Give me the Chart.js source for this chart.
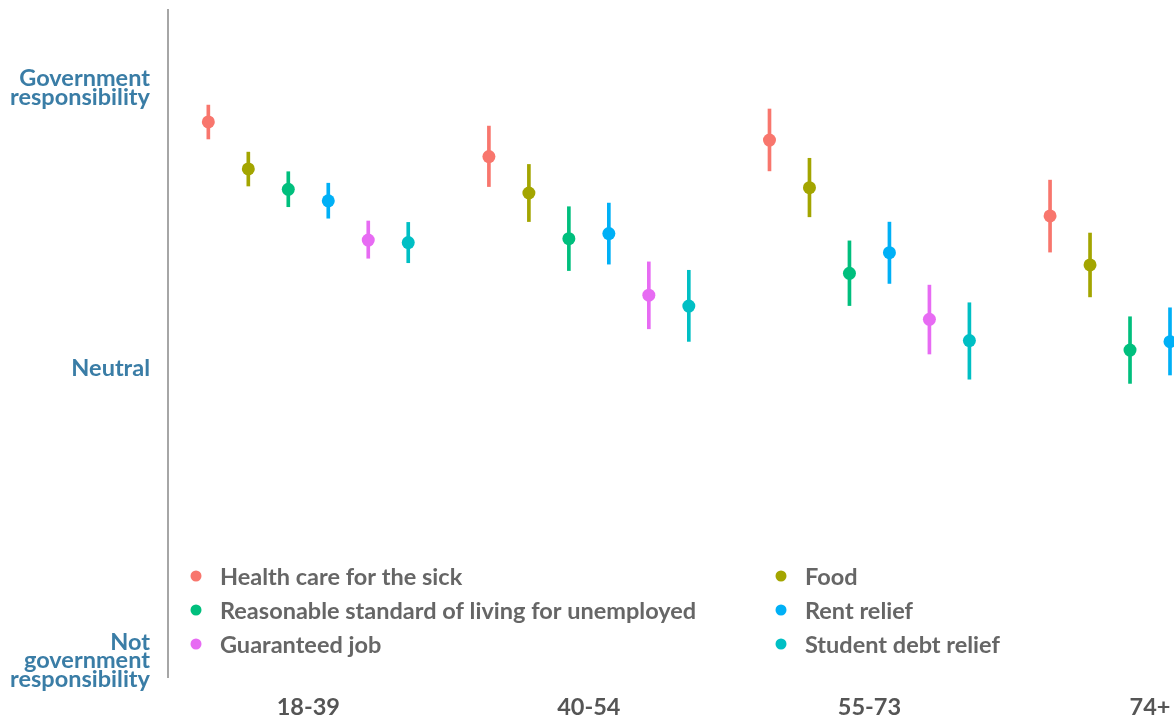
<!DOCTYPE html>
<html>
<head>
<meta charset="utf-8">
<script src="https://cdn.jsdelivr.net/npm/chart.js@4.4.1/dist/chart.umd.min.js"></script>
<style>
  html, body { margin: 0; padding: 0; background: #ffffff; overflow: hidden; }
  #wrap { position: relative; width: 1174px; height: 721px; }
</style>
</head>
<body>
<div id="wrap"><canvas id="chart"></canvas></div>
<script>
// Age groups on the x axis
const ageGroups = ['18-39', '40-54', '55-73', '74+'];

// Y axis: 1 = government responsibility, 0 = neutral, negative = not
const yTickValues = [1, 0, -1.045];
const yTickLabels = [
  ['Government', 'responsibility'],
  'Neutral',
  ['Not', 'government', 'responsibility']
];

// Policy items (legend order) and their colours
const policies = [
  'Health care for the sick',
  'Food',
  'Reasonable standard of living for unemployed',
  'Rent relief',
  'Guaranteed job',
  'Student debt relief'
];
const policyColors = ['#F8766D', '#A3A500', '#00BF7D', '#00B0F6', '#E76BF3', '#00BFC4'];

// Mean estimates per age group (null where the group is not shown)
const healthMean     = [0.879, 0.755, 0.814, 0.543];
const foodMean       = [0.711, 0.625, 0.644, 0.368];
const standardMean   = [0.638, 0.462, 0.338, 0.064];
const rentMean       = [0.597, 0.480, 0.412, 0.094];
const jobMean        = [0.457, 0.260, 0.174, null];
const studentMean    = [0.448, 0.221, 0.098, null];

// Lower / upper interval bounds
const healthLow      = [0.818, 0.648, 0.704, 0.414];
const healthHigh     = [0.939, 0.864, 0.925, 0.671];
const foodLow        = [0.650, 0.523, 0.540, 0.254];
const foodHigh       = [0.771, 0.727, 0.749, 0.482];
const standardLow    = [0.576, 0.348, 0.223, -0.055];
const standardHigh   = [0.701, 0.576, 0.454, 0.183];
const rentLow        = [0.535, 0.371, 0.302, -0.025];
const rentHigh       = [0.660, 0.589, 0.521, 0.215];
const jobLow         = [0.392, 0.140, 0.050, null];
const jobHigh        = [0.525, 0.379, 0.296, null];
const studentLow     = [0.376, 0.095, -0.040, null];
const studentHigh    = [0.520, 0.349, 0.233, null];

const means = [healthMean, foodMean, standardMean, rentMean, jobMean, studentMean];
const lows  = [healthLow, foodLow, standardLow, rentLow, jobLow, studentLow];
const highs = [healthHigh, foodHigh, standardHigh, rentHigh, jobHigh, studentHigh];

// Horizontal dodge between the six items within an age group (in group units)
const dodgeStep = 0.1425;

function dodgeX(groupIndex, policyIndex) {
  return groupIndex + (policyIndex - (policies.length - 1) / 2) * dodgeStep;
}

const datasets = [];
policies.forEach((name, p) => {
  // interval bars
  datasets.push({
    type: 'bar',
    label: name + ' interval',
    isInterval: true,
    data: ageGroups.map((g, i) => lows[p][i] === null ? null : { x: dodgeX(i, p), y: [lows[p][i], highs[p][i]] }).filter(d => d),
    backgroundColor: policyColors[p],
    borderWidth: 0,
    barThickness: 3,
    grouped: false,
    order: 2
  });
  // point estimates
  datasets.push({
    type: 'scatter',
    label: name,
    data: ageGroups.map((g, i) => means[p][i] === null ? null : { x: dodgeX(i, p), y: means[p][i] }).filter(d => d),
    backgroundColor: policyColors[p],
    borderColor: policyColors[p],
    borderWidth: 0,
    pointRadius: 6.5,
    pointHoverRadius: 6.5,
    order: 1
  });
});

const FONT = 'Lato';
const FONT_SIZE = 23.5;

// Two-column legend inside the plot, filled row by row
const insideLegend = {
  id: 'insideLegend',
  afterDatasetsDraw(chart) {
    const ctx = chart.ctx;
    const area = chart.chartArea;
    const items = chart.data.datasets.filter(d => !d.isInterval);
    ctx.save();
    ctx.font = 'bold ' + FONT_SIZE + 'px ' + FONT;
    ctx.textBaseline = 'middle';
    ctx.textAlign = 'left';
    items.forEach((d, i) => {
      const row = Math.floor(i / 2);
      const col = i % 2;
      const x = area.left + (col === 0 ? 28 : 613);
      const y = area.bottom - 101 + row * 34;
      ctx.fillStyle = d.backgroundColor;
      ctx.beginPath();
      ctx.arc(x, y, 5.5, 0, Math.PI * 2);
      ctx.fill();
      ctx.fillStyle = '#666666';
      ctx.fillText(d.label, x + 24, y + 1);
    });
    ctx.restore();
  }
};

// Keep the plot edges fixed: no extra room reserved for edge labels
function noEdgePadding(scale) {
  scale.paddingLeft = 0;
  scale.paddingRight = 0;
  scale.paddingTop = 0;
  scale.paddingBottom = 0;
}

function draw() {
  new Chart(document.getElementById('chart'), {
    data: { datasets },
    options: {
      responsive: true,
      maintainAspectRatio: false,
      animation: false,
      layout: { autoPadding: false, padding: { top: 10, right: 0, left: 0, bottom: 0 } },
      plugins: {
        legend: { display: false },
        tooltip: { enabled: false }
      },
      scales: {
        x: {
          type: 'linear',
          offset: false,
          min: -0.5,
          max: 3.0855,
          grid: { display: false, drawTicks: false, offset: false },
          border: { display: false },
          afterBuildTicks(scale) {
            scale.ticks = ageGroups.map((g, i) => ({ value: i }));
          },
          afterFit(scale) { scale.height = 44; noEdgePadding(scale); },
          ticks: {
            autoSkip: false,
            maxRotation: 0,
            padding: 16,
            color: '#555555',
            font: { family: FONT, weight: 'bold', size: FONT_SIZE },
            callback: (v) => ageGroups[v]
          }
        },
        y: {
          type: 'linear',
          min: -1.1036,
          max: 1.2786,
          grid: { display: false, drawTicks: false },
          border: { display: true, color: '#a6a6a6', width: 2 },
          afterBuildTicks(scale) {
            scale.ticks = yTickValues.map(v => ({ value: v }));
          },
          afterFit(scale) { scale.width = 168; noEdgePadding(scale); },
          ticks: {
            padding: 18,
            color: '#3a7da6',
            font: { family: FONT, weight: 'bold', size: FONT_SIZE, lineHeight: 0.79 },
            callback: (v) => {
              const i = yTickValues.indexOf(v);
              return i >= 0 ? yTickLabels[i] : '';
            }
          }
        }
      }
    },
    plugins: [insideLegend]
  });
}

Promise.all([
  document.fonts.load('bold 23.5px Lato')
]).then(draw, draw);
</script>
</body>
</html>
